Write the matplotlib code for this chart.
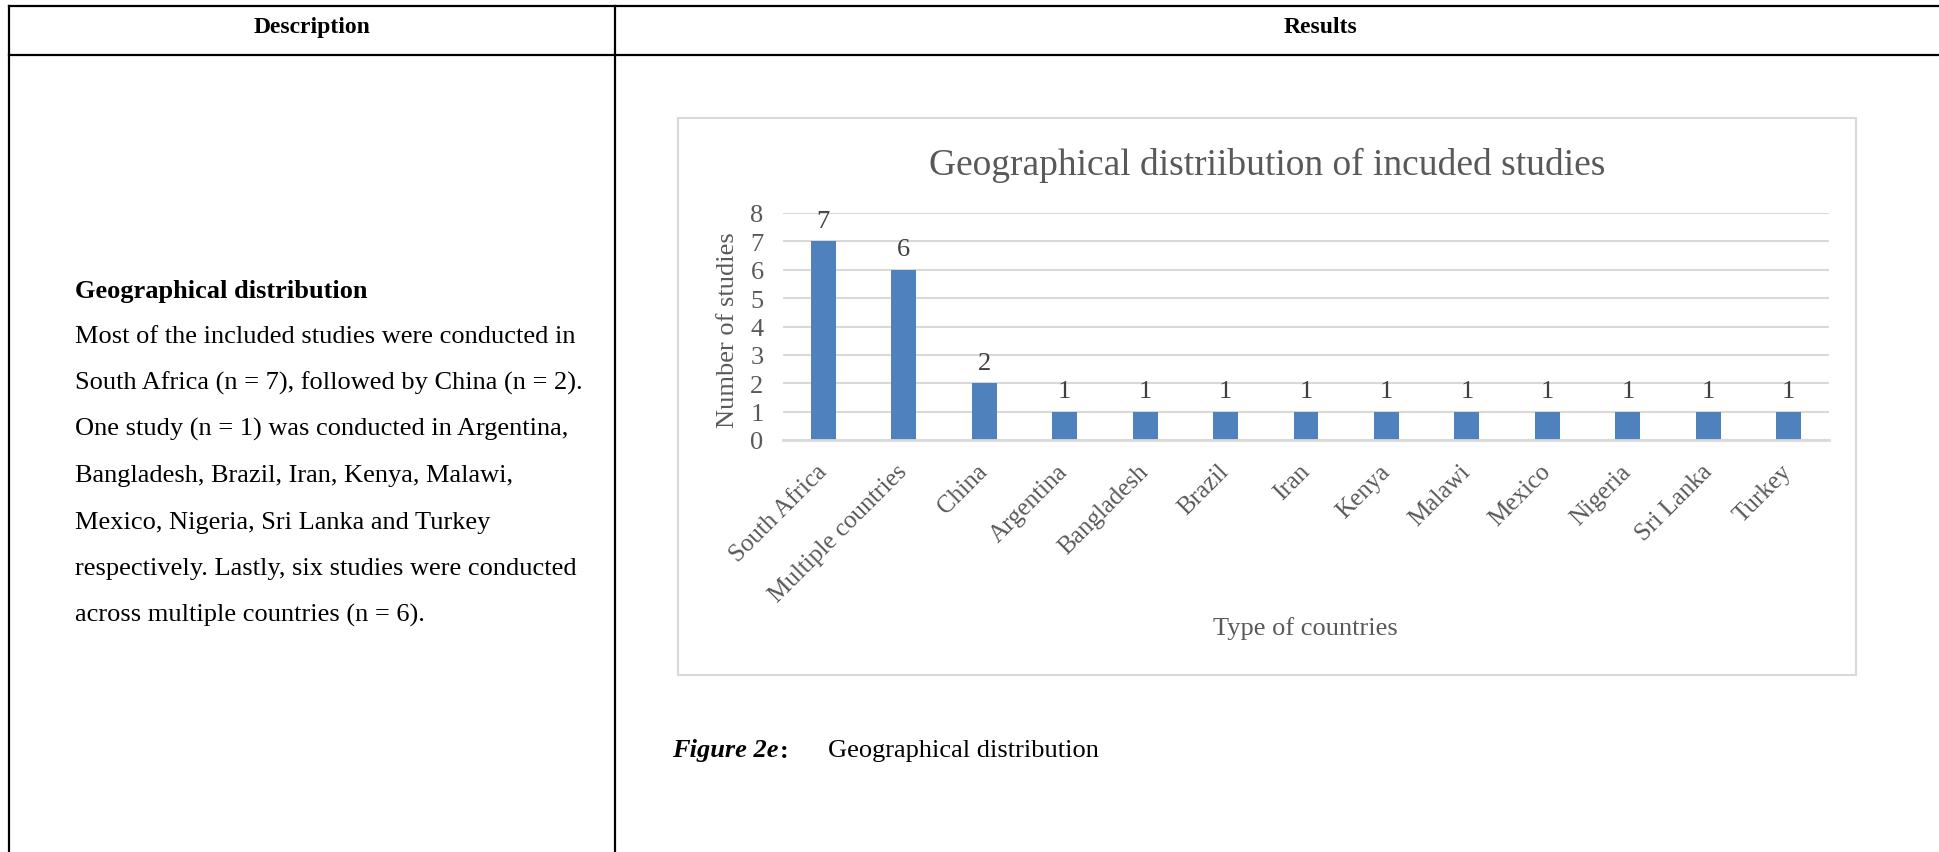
import matplotlib.pyplot as plt
from matplotlib.patches import Rectangle

# country counts
countries = ["South Africa", "Multiple countries", "China", "Argentina", "Bangladesh",
             "Brazil", "Iran", "Kenya", "Malawi", "Mexico", "Nigeria", "Sri Lanka", "Turkey"]
n_studies = [7, 6, 2, 1, 1, 1, 1, 1, 1, 1, 1, 1, 1]
y_ticks = [0, 1, 2, 3, 4, 5, 6, 7, 8]

desc_lines = [
    "Most of the included studies were conducted in",
    "South Africa (n = 7), followed by China (n = 2).",
    "One study (n = 1) was conducted in Argentina,",
    "Bangladesh, Brazil, Iran, Kenya, Malawi,",
    "Mexico, Nigeria, Sri Lanka and Turkey",
    "respectively. Lastly, six studies were conducted",
    "across multiple countries (n = 6).",
]

plt.rcParams['font.family'] = ['Liberation Serif', 'DejaVu Serif']

W, H = 1939, 853
fig = plt.figure(figsize=(W / 100, H / 100), dpi=100)

# page layer in pixel coordinates
bg = fig.add_axes([0, 0, 1, 1])
bg.set_xlim(0, W)
bg.set_ylim(H, 0)
bg.axis("off")

# table rules
lw_tab = 1.6
bg.plot([9, W], [7, 7], color="black", lw=lw_tab)
bg.plot([9, W], [56, 56], color="black", lw=lw_tab)
bg.plot([9, 9], [7, H], color="black", lw=lw_tab)
bg.plot([615, 615], [7, H], color="black", lw=lw_tab)

bg.text(312, 27, "Description", ha="center", va="center", fontsize=17, fontweight="bold")
bg.text(1320, 27, "Results", ha="center", va="center", fontsize=17, fontweight="bold")

# description column
bg.text(75, 291, "Geographical distribution", ha="left", va="center", fontsize=19, fontweight="bold")
for i, line in enumerate(desc_lines):
    bg.text(75, 291 + 46.3 * (i + 1), line, ha="left", va="center", fontsize=19)

# chart frame
bg.add_patch(Rectangle((678, 119), 1856 - 678, 676 - 119, facecolor="white",
                       edgecolor="#d9d9d9", lw=1.5))

bg.text(1267, 165, "Geographical distriibution of incuded studies", ha="center", va="center",
        fontsize=27, color="#595959")
bg.text(1305, 629, "Type of countries", ha="center", va="center", fontsize=19, color="#595959")
bg.text(728, 330, "Number of studies", ha="center", va="center", rotation=90,
        fontsize=19, color="#595959")

# caption
fig_lbl = bg.text(672, 751, "Figure 2e", ha="left", va="center", fontsize=19,
                  fontweight="bold", style="italic")
bg.annotate(":", xy=(1, 0.5), xycoords=fig_lbl, xytext=(1, 0), textcoords="offset points",
            ha="left", va="center", fontsize=19, fontweight="bold")
bg.text(828, 751, "Geographical distribution", ha="left", va="center", fontsize=19)

# bar chart
ax_l, ax_r, ax_t, ax_b = 783, 1829, 214, 441
ax = fig.add_axes([ax_l / W, 1 - ax_b / H, (ax_r - ax_l) / W, (ax_b - ax_t) / H])
ax.patch.set_alpha(0)
x = range(len(countries))
bars = ax.bar(x, n_studies, width=0.31, color="#4f81bd", zorder=3)
ax.set_xlim(-0.5, len(countries) - 0.5)
ax.set_ylim(0, 8)
ax.set_yticks(y_ticks)
ax.yaxis.grid(True, color="#d9d9d9", lw=1.5, zorder=0)
for s in ["top", "right", "left"]:
    ax.spines[s].set_visible(False)
ax.spines["bottom"].set_color("#d9d9d9")
ax.spines["bottom"].set_linewidth(2)
ax.spines["bottom"].set_zorder(4)
ax.tick_params(axis="both", length=0, labelsize=18, labelcolor="#595959")
ax.tick_params(axis="y", pad=14, labelsize=19)
ax.set_xticks(list(x))
ax.set_xticklabels(countries, rotation=45, ha="right", va="center", rotation_mode="anchor")
ax.tick_params(axis="x", pad=20)

for b, v in zip(bars, n_studies):
    ax.annotate(str(v), (b.get_x() + b.get_width() / 2, v), xytext=(0, 7),
                textcoords="offset points", ha="center", va="bottom",
                fontsize=19, color="#404040")

fig.savefig("out.png", dpi=100)
